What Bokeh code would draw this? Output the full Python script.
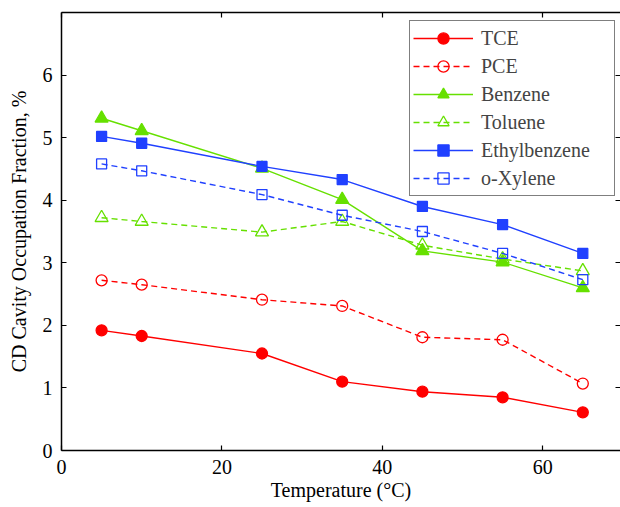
from bokeh.plotting import figure
from bokeh.models import Range1d, LinearAxis, FixedTicker, Legend, LegendItem
from bokeh.embed import file_html
from bokeh.resources import INLINE

temperature = [5, 10, 25, 35, 45, 55, 65]
tce = [1.92, 1.83, 1.55, 1.10, 0.94, 0.85, 0.61]
pce = [2.72, 2.65, 2.41, 2.31, 1.81, 1.77, 1.07]
benzene = [5.31, 5.11, 4.51, 4.01, 3.19, 3.01, 2.60]
toluene = [3.72, 3.66, 3.49, 3.66, 3.28, 3.06, 2.87]
ethylbenzene = [5.02, 4.91, 4.54, 4.33, 3.90, 3.61, 3.15]
o_xylene = [4.58, 4.47, 4.09, 3.76, 3.50, 3.15, 2.73]

x_ticks = [0, 20, 40, 60]
y_ticks = [0, 1, 2, 3, 4, 5, 6]

RED = "#FF0000"
GREEN = "#66E000"
BLUE = "#2040FF"
FONT = "Liberation Serif"
FS = "20px"

p = figure(width=620, height=507, output_backend="svg", toolbar_location=None,
           x_range=Range1d(0, 69.7), y_range=Range1d(0, 7),
           min_border_left=61, min_border_right=0, min_border_top=12, min_border_bottom=57,
           x_axis_label="Temperature (°C)", y_axis_label="CD Cavity Occupation Fraction, %")
p.outline_line_color = None
p.xgrid.visible = False
p.ygrid.visible = False
p.background_fill_color = "white"
p.border_fill_color = "white"

for ax in (p.xaxis[0], p.yaxis[0]):
    ax.major_tick_in = 5
    ax.major_tick_out = 0
    ax.minor_tick_line_color = None
    ax.axis_line_width = 1.5
    ax.major_tick_line_width = 1.2
    ax.major_label_text_font = FONT
    ax.major_label_text_font_size = FS
    ax.major_label_text_color = "black"
    ax.axis_label_text_font = FONT
    ax.axis_label_text_font_size = FS
    ax.axis_label_text_font_style = "normal"
    ax.axis_label_text_color = "black"
    ax.major_label_standoff = 9

p.xaxis[0].ticker = FixedTicker(ticks=x_ticks)
p.yaxis[0].ticker = FixedTicker(ticks=y_ticks)
p.xaxis[0].axis_label_standoff = 2
p.yaxis[0].axis_label_standoff = 10

top = LinearAxis(ticker=FixedTicker(ticks=x_ticks), major_tick_in=5, major_tick_out=0,
                 minor_tick_line_color=None, major_label_text_font_size="0px",
                 major_label_standoff=0, axis_line_width=1.5, major_tick_line_width=1.2)
p.add_layout(top, "above")
right = LinearAxis(ticker=FixedTicker(ticks=y_ticks), major_tick_in=5, major_tick_out=0,
                   minor_tick_line_color=None, major_label_text_font_size="0px",
                   major_label_standoff=0, axis_line_color=None, major_tick_line_width=1.2)
p.add_layout(right, "right")

items = []

def series(y, color, marker, filled, dashed, label):
    dash = "6 4" if dashed else "solid"
    r1 = p.line(temperature, y, line_color=color, line_width=1.4, line_dash=dash)
    kw = dict(size=11, line_color=color, line_width=1.3)
    kw["fill_color"] = color if filled else None
    if marker == "circle":
        r2 = p.scatter(temperature, y, marker="circle", **kw)
    elif marker == "triangle":
        kw["size"] = 13
        r2 = p.scatter(temperature, y, marker="triangle", **kw)
    else:
        kw["size"] = 10
        r2 = p.scatter(temperature, y, marker="square", **kw)
    items.append(LegendItem(label=label, renderers=[r1, r2]))

series(tce, RED, "circle", True, False, "TCE")
series(pce, RED, "circle", False, True, "PCE")
series(benzene, GREEN, "triangle", True, False, "Benzene")
series(toluene, GREEN, "triangle", False, True, "Toluene")
series(ethylbenzene, BLUE, "square", True, False, "Ethylbenzene")
series(o_xylene, BLUE, "square", False, True, "o-Xylene")

legend = Legend(items=items, location=(348, 254), orientation="vertical",
                label_text_font=FONT, label_text_font_size=FS,
                label_height=28, glyph_height=28, glyph_width=60,
                label_standoff=8, label_width=130, padding=3, spacing=0, margin=0,
                border_line_color="black", border_line_width=1.5,
                background_fill_color="white", background_fill_alpha=1.0)
p.add_layout(legend, "center")

open("out.html", "w").write(file_html(p, INLINE))
